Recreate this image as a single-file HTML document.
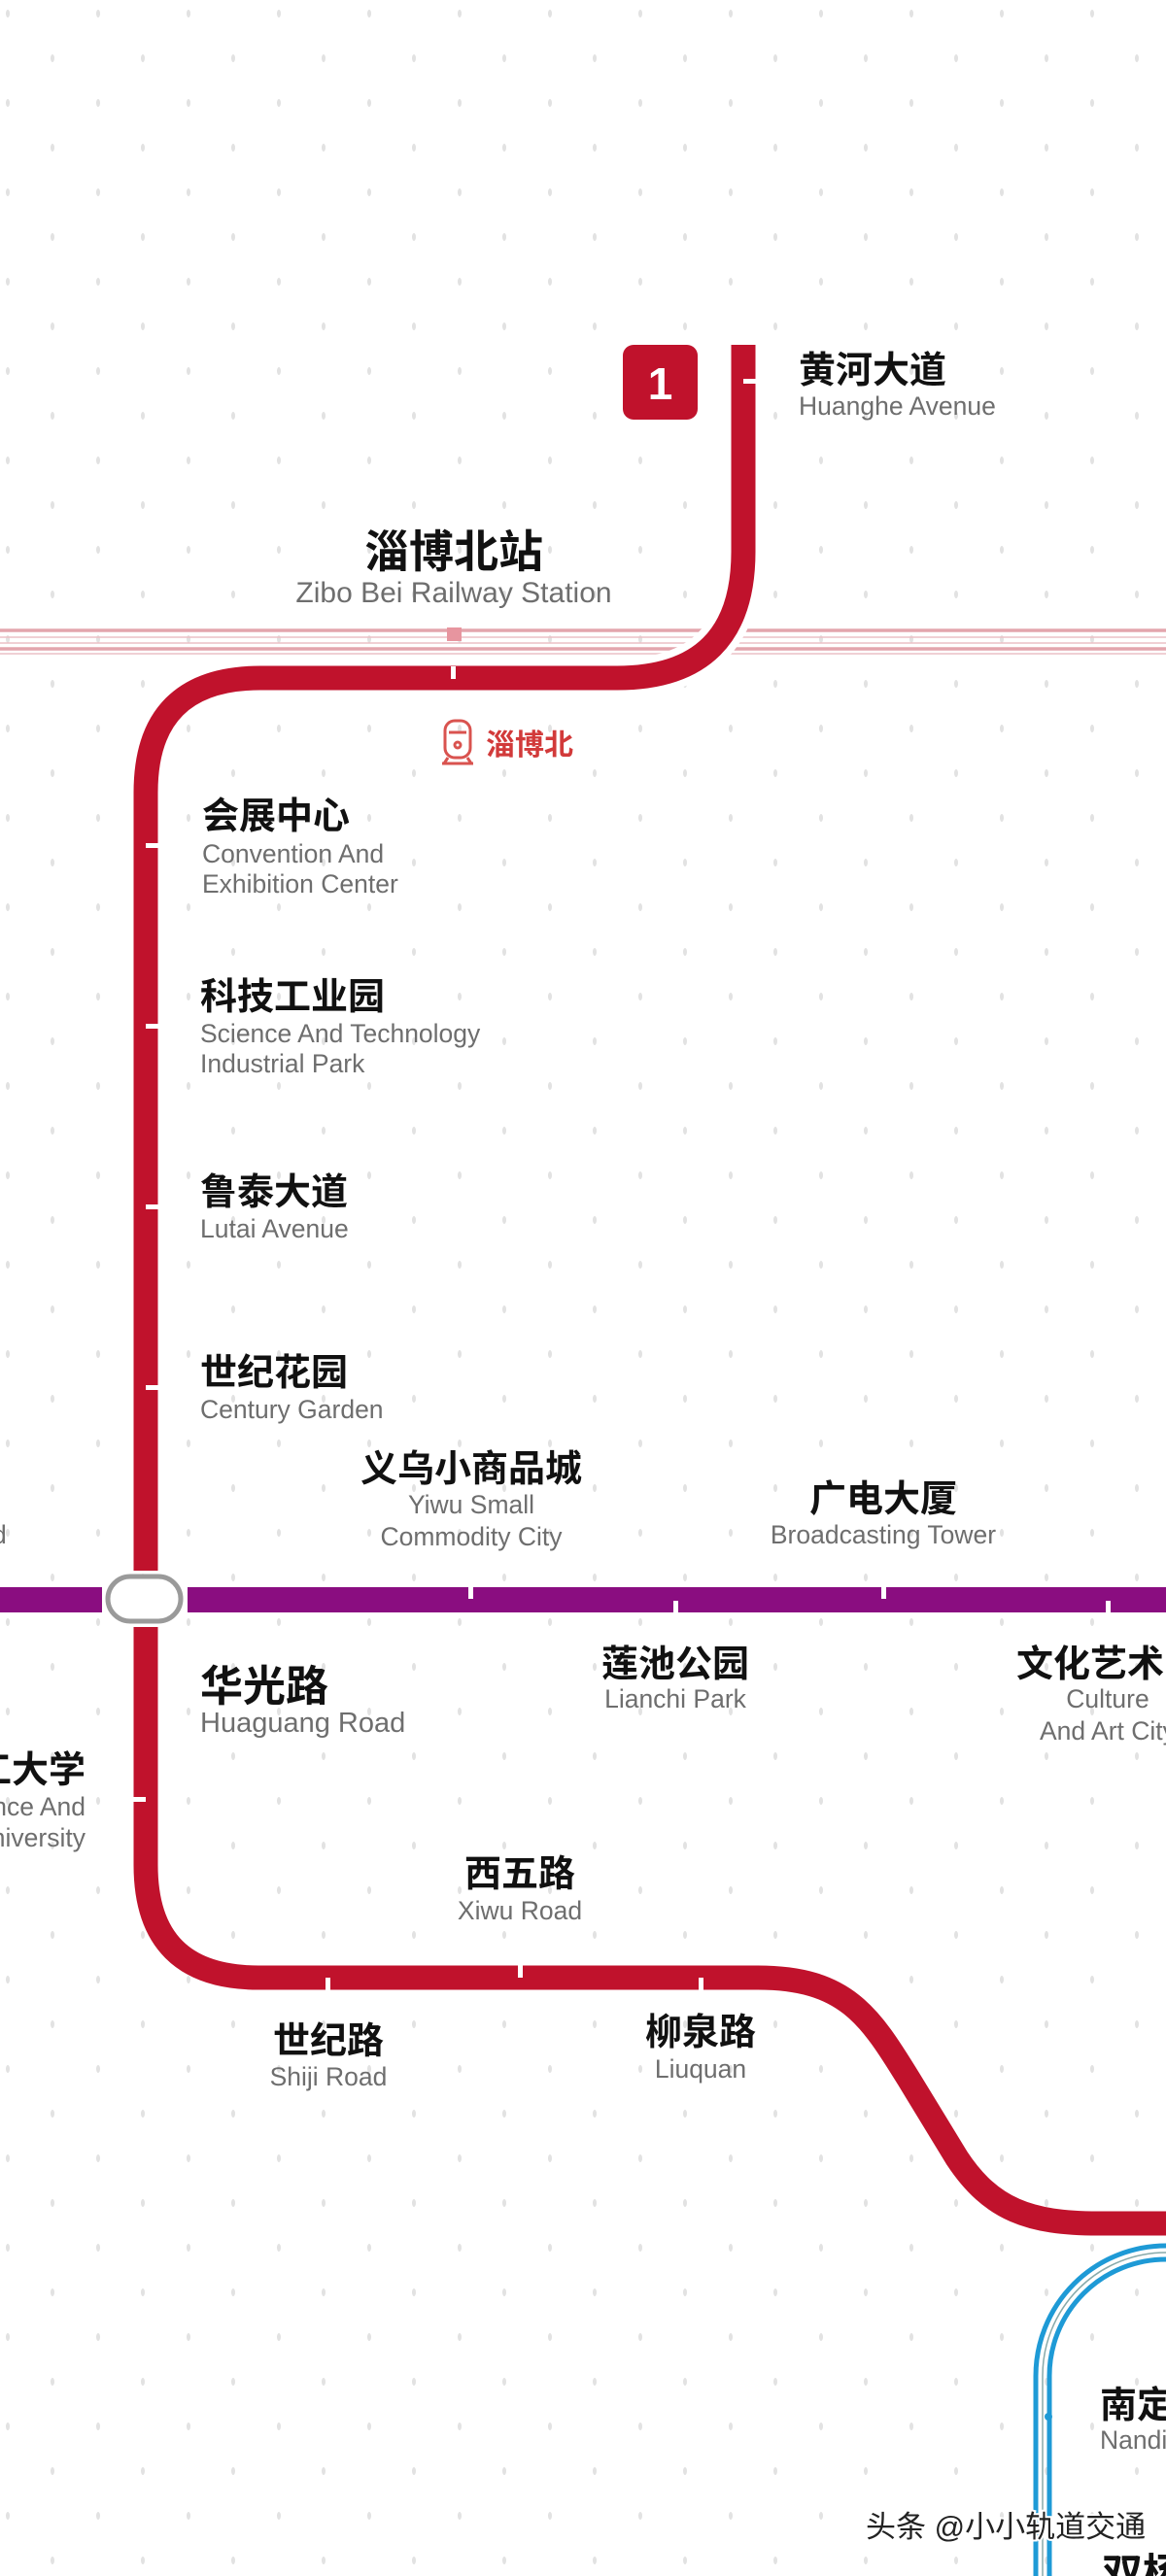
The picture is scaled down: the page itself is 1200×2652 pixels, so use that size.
<!DOCTYPE html>
<html><head><meta charset="utf-8"><style>
html,body{margin:0;padding:0;background:#fff}
svg{display:block}
.cn{font-family:"Liberation Sans","Noto Sans CJK SC",sans-serif;font-weight:bold;fill:#111}
.en{font-family:"Liberation Sans",sans-serif;fill:#6e6e6e;font-size:26.5px}
</style></head><body>
<svg width="1200" height="2652" viewBox="0 0 1200 2652" xmlns="http://www.w3.org/2000/svg">
<defs>
<pattern id="dots" width="93" height="92" patternUnits="userSpaceOnUse">
<ellipse cx="8" cy="14" rx="2" ry="4" fill="#e2e2e2"/>
<ellipse cx="54" cy="60" rx="2" ry="4" fill="#e2e2e2"/>
</pattern>
</defs>
<rect width="1200" height="2652" fill="#fff"/>
<rect width="1200" height="2652" fill="url(#dots)"/>

<!-- rails -->
<g fill="none">
<line x1="0" y1="649" x2="1200" y2="649" stroke="#e3a5ad" stroke-width="3.5"/>
<line x1="0" y1="656" x2="1200" y2="656" stroke="#ecc0c5" stroke-width="1.5"/>
<line x1="0" y1="662" x2="1200" y2="662" stroke="#ecc0c5" stroke-width="1.5"/>
<line x1="0" y1="668" x2="1200" y2="668" stroke="#e3a5ad" stroke-width="3.5"/>
<line x1="0" y1="673" x2="1200" y2="673" stroke="#ecc0c5" stroke-width="1.5"/>
</g>
<rect x="460" y="646" width="15" height="14" fill="#e7959f"/>

<path d="M765,355 L765,568 Q765,698 635,698 L268,698" fill="none" stroke="#fff" stroke-width="40"/>
<path d="M765,355 L765,568 Q765,698 635,698 L268,698 Q150,698 150,816 L150,1617" fill="none" stroke="#c0122c" stroke-width="25"/>
<path d="M150,1675 L150,1920 Q150,2036 266,2036 L780,2036 C870,2036 895,2075 935,2140 L985,2222 C1020,2275 1060,2289 1130,2289 L1200,2289" fill="none" stroke="#c0122c" stroke-width="25"/>

<rect x="0" y="1634" width="105" height="26" fill="#8a0d80"/>
<rect x="193" y="1634" width="1007" height="26" fill="#8a0d80"/>
<rect x="111" y="1623" width="75" height="46" rx="23" fill="#fff" stroke="#9a9a9a" stroke-width="5"/>

<g fill="none">
<path d="M1200,2312 A134,134 0 0 0 1066,2446 L1066,2652" stroke="#1e9ad6" stroke-width="5"/>
<path d="M1200,2319 A127,127 0 0 0 1073,2446 L1073,2652" stroke="#8aa" stroke-width="1.5"/>
<path d="M1200,2326 A120,120 0 0 0 1080,2446 L1080,2652" stroke="#1e9ad6" stroke-width="5"/>
</g>
<circle cx="1079" cy="2488" r="4" fill="#1e9ad6"/>

<g fill="#fff">
<rect x="765" y="390" width="13" height="5"/>
<rect x="464" y="686" width="5" height="13"/>
<rect x="150" y="868" width="13" height="5"/>
<rect x="150" y="1054" width="13" height="5"/>
<rect x="150" y="1240" width="13" height="5"/>
<rect x="150" y="1426" width="13" height="5"/>
<rect x="137" y="1850" width="13" height="5"/>
<rect x="482" y="1634" width="5" height="12"/>
<rect x="693" y="1648" width="5" height="12"/>
<rect x="907" y="1634" width="5" height="12"/>
<rect x="1138" y="1648" width="5" height="12"/>
<rect x="335" y="2036" width="5" height="13"/>
<rect x="533" y="2023" width="5" height="13"/>
<rect x="719" y="2036" width="5" height="13"/>
</g>

<rect x="641" y="355" width="77" height="77" rx="11" fill="#c0122c"/>
<text x="679.5" y="411" text-anchor="middle" font-family="Liberation Sans,sans-serif" font-weight="bold" font-size="46" fill="#fff">1</text>

<g fill="none" stroke="#d9534f" stroke-width="3">
<rect x="458" y="742" width="26" height="38" rx="10"/>
<line x1="462" y1="754" x2="480" y2="754"/>
<circle cx="471" cy="767" r="3"/>
<line x1="455" y1="786" x2="487" y2="786"/>
<line x1="461" y1="780" x2="457" y2="786"/>
<line x1="481" y1="780" x2="485" y2="786"/>
</g>
<text x="500" y="777" class="cn" font-size="30" style="fill:#d23a3a">淄博北</text>

<text x="822" y="394" class="cn" font-size="38">黄河大道</text>
<text x="822" y="427" class="en">Huanghe Avenue</text>

<text x="467" y="584" class="cn" font-size="46" text-anchor="middle">淄博北站</text>
<text x="467" y="620" class="en" text-anchor="middle" style="font-size:30px">Zibo Bei Railway Station</text>

<text x="208" y="853" class="cn" font-size="38">会展中心</text>
<text x="208" y="888" class="en">Convention And</text>
<text x="208" y="919" class="en">Exhibition Center</text>

<text x="206" y="1039" class="cn" font-size="38">科技工业园</text>
<text x="206" y="1073" class="en">Science And Technology</text>
<text x="206" y="1104" class="en">Industrial Park</text>

<text x="206" y="1240" class="cn" font-size="38">鲁泰大道</text>
<text x="206" y="1274" class="en">Lutai Avenue</text>

<text x="206" y="1426" class="cn" font-size="38">世纪花园</text>
<text x="206" y="1460" class="en">Century Garden</text>

<text x="-8" y="1589" class="en">d</text>

<text x="485" y="1525" class="cn" font-size="38" text-anchor="middle">义乌小商品城</text>
<text x="485" y="1558" class="en" text-anchor="middle">Yiwu Small</text>
<text x="485" y="1591" class="en" text-anchor="middle">Commodity City</text>

<text x="909" y="1556" class="cn" font-size="38" text-anchor="middle">广电大厦</text>
<text x="909" y="1589" class="en" text-anchor="middle">Broadcasting Tower</text>

<text x="206" y="1751" class="cn" font-size="44">华光路</text>
<text x="206" y="1783" class="en" style="font-size:29px">Huaguang Road</text>

<text x="695" y="1726" class="cn" font-size="38" text-anchor="middle">莲池公园</text>
<text x="695" y="1758" class="en" text-anchor="middle">Lianchi Park</text>

<text x="1046" y="1726" class="cn" font-size="38">文化艺术</text>
<text x="1140" y="1758" class="en" text-anchor="middle">Culture</text>
<text x="1070" y="1791" class="en">And Art City</text>

<text x="88" y="1835" class="cn" font-size="38" text-anchor="end">理工大学</text>
<text x="88" y="1869" class="en" text-anchor="end">Science And</text>
<text x="88" y="1901" class="en" text-anchor="end">University</text>

<text x="535" y="1942" class="cn" font-size="38" text-anchor="middle">西五路</text>
<text x="535" y="1976" class="en" text-anchor="middle">Xiwu Road</text>

<text x="338" y="2114" class="cn" font-size="38" text-anchor="middle">世纪路</text>
<text x="338" y="2147" class="en" text-anchor="middle">Shiji Road</text>

<text x="721" y="2105" class="cn" font-size="38" text-anchor="middle">柳泉路</text>
<text x="721" y="2139" class="en" text-anchor="middle">Liuquan</text>

<text x="1132" y="2489" class="cn" font-size="38">南定</text>
<text x="1132" y="2521" class="en">Nanding</text>

<text x="1134" y="2664" class="cn" font-size="42">双杨</text>

<text x="891" y="2612" font-family="Liberation Sans,'Noto Sans CJK SC',sans-serif" font-size="31" fill="#222" stroke="#fff" stroke-width="4" paint-order="stroke">头条 @小小轨道交通</text>
</svg>
</body></html>
